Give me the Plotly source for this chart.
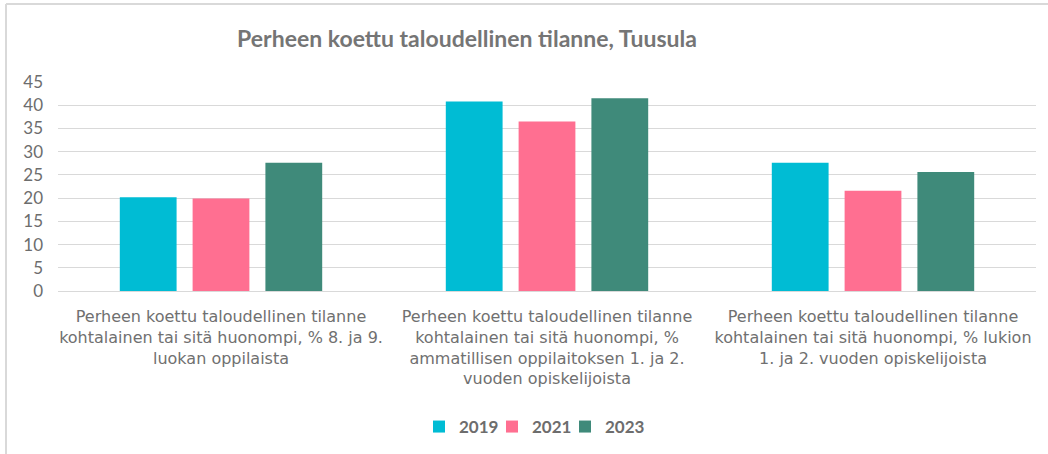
import plotly.graph_objects as go

categories = [
    "Perheen koettu taloudellinen tilanne<br>kohtalainen tai sitä huonompi, % 8. ja 9.<br>luokan oppilaista",
    "Perheen koettu taloudellinen tilanne<br>kohtalainen tai sitä huonompi, %<br>ammatillisen oppilaitoksen 1. ja 2.<br>vuoden opiskelijoista",
    "Perheen koettu taloudellinen tilanne<br>kohtalainen tai sitä huonompi, % lukion<br>1. ja 2. vuoden opiskelijoista",
]
years = ["2019", "2021", "2023"]
values_2019 = [20.2, 40.8, 27.6]
values_2021 = [19.9, 36.5, 21.6]
values_2023 = [27.6, 41.5, 25.6]
colors = ["#00BCD4", "#FF6F91", "#3F8A7A"]
y_ticks = [0, 5, 10, 15, 20, 25, 30, 35, 40, 45]

W, H = 1048, 454
L, R, T, B = 58, 12, 82, 163
pw, ph = W - L - R, H - T - B

def px_x(p):
    return (p - L) / pw

def px_y(p):
    return (H - B - p) / ph

legend_ids = ["legend", "legend2", "legend3"]
legend_sq_left = [433, 506, 579]
SYM_OFF = 14

fig = go.Figure()
for name, vals, col, lid in zip(years, [values_2019, values_2021, values_2023], colors, legend_ids):
    fig.add_trace(go.Bar(name=name, x=list(range(len(categories))), y=vals, legend=lid,
                         marker=dict(color=col, line=dict(width=0))))

leg_common = dict(orientation="h", xanchor="left", y=px_y(427), yanchor="middle",
                  font=dict(family="Lato", size=17, color="#6d6d6d", weight="bold"),
                  itemwidth=30, bgcolor="rgba(0,0,0,0)", borderwidth=0)

fig.update_layout(
    width=W, height=H,
    margin=dict(l=L, r=R, t=T, b=B, autoexpand=False),
    paper_bgcolor="white", plot_bgcolor="white",
    barmode="group", bargap=0.33, bargroupgap=0.22,
    title=dict(text="<b>Perheen koettu taloudellinen tilanne, Tuusula</b>",
               x=467 / W, xanchor="center", y=1 - 39 / H, yanchor="middle",
               font=dict(family="Lato", size=23, color="#757575")),
    font=dict(family="Lato", color="#6d6d6d"),
    xaxis=dict(tickmode="array", tickvals=list(range(len(categories))), ticktext=categories,
               range=[-0.5, 2.5], showgrid=False, showline=False, ticks="", automargin=False,
               tickfont=dict(family="DejaVu Sans", size=16, color="#707070"), tickangle=0,
               ticklabelstandoff=14),
    yaxis=dict(range=[0, 45], tickvals=y_ticks, showgrid=True, gridcolor="#d9d9d9", gridwidth=1,
               zeroline=True, zerolinecolor="#d9d9d9", zerolinewidth=1, showline=False, ticks="",
               automargin=False,
               tickfont=dict(family="Lato", size=17, color="#6d6d6d"), ticklabelstandoff=14),
    legend=dict(x=px_x(legend_sq_left[0] - SYM_OFF), **leg_common),
    legend2=dict(x=px_x(legend_sq_left[1] - SYM_OFF), **leg_common),
    legend3=dict(x=px_x(legend_sq_left[2] - SYM_OFF), **leg_common),
    showlegend=True,
    shapes=[
        dict(type="line", xref="paper", yref="paper", x0=px_x(6), x1=px_x(6), y0=px_y(4), y1=px_y(H),
             line=dict(color="#d9d9d9", width=2)),
        dict(type="line", xref="paper", yref="paper", x0=px_x(6), x1=px_x(W), y0=px_y(4), y1=px_y(4),
             line=dict(color="#d9d9d9", width=2)),
    ],
)

fig.write_html("out.html", post_script="document.body.style.margin='0';",
               config={"displayModeBar": False})
